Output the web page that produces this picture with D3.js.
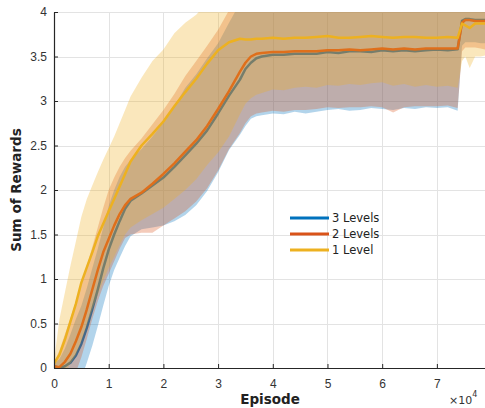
<!DOCTYPE html>
<html>
<head>
<meta charset="utf-8">
<script src="https://cdn.jsdelivr.net/npm/d3@7"></script>
<style>
  body { margin: 0; background: #fff; }
  svg { font-family: "DejaVu Sans", sans-serif; display: block; }
  .axis text { font-size: 12px; fill: #333; }
  .axis path, .axis line { stroke: #262626; }
</style>
</head>
<body>
<div id="Chart"></div>
<script>
// episodes, in units of 10^4
const episodes = [0, 0.1, 0.2, 0.3, 0.4, 0.5, 0.6, 0.7, 0.8, 0.9, 1.0, 1.1, 1.2, 1.3, 1.4, 1.6, 1.8, 2.0, 2.2, 2.4,
  2.6, 2.8, 3.0, 3.2, 3.4, 3.5, 3.6, 3.7, 3.8, 4.0, 4.2, 4.4, 4.6, 4.8, 5.0, 5.2, 5.4, 5.6, 5.8, 6.0,
  6.2, 6.4, 6.6, 6.8, 7.0, 7.2, 7.38, 7.46, 7.52, 7.6, 7.7, 7.8, 7.88];

const level3Mean  = [0.02, 0.0, 0.02, 0.06, 0.14, 0.27, 0.45, 0.66, 0.88, 1.12, 1.33, 1.5, 1.65, 1.79, 1.88, 1.96, 2.05, 2.14, 2.26, 2.39,
  2.52, 2.67, 2.86, 3.06, 3.24, 3.36, 3.43, 3.48, 3.5, 3.52, 3.52, 3.53, 3.53, 3.53, 3.55, 3.54, 3.56, 3.56, 3.55, 3.57,
  3.56, 3.57, 3.56, 3.57, 3.58, 3.57, 3.58, 3.9, 3.92, 3.92, 3.91, 3.91, 3.91];
const level3Lower = [0, -0.1, -0.3, -0.4, -0.35, -0.12, 0.06, 0.25, 0.47, 0.7, 0.92, 1.1, 1.24, 1.37, 1.48, 1.56, 1.58, 1.6, 1.65, 1.72,
  1.83, 1.99, 2.2, 2.45, 2.62, 2.72, 2.8, 2.83, 2.84, 2.86, 2.85, 2.88, 2.86, 2.88, 2.9, 2.91, 2.89, 2.9, 2.92, 2.91,
  2.9, 2.92, 2.91, 2.93, 2.92, 2.93, 2.89, 3.62, 3.66, 3.66, 3.66, 3.65, 3.65];
const level3Upper = [0.05, 0.1, 0.22, 0.38, 0.55, 0.7, 0.9, 1.12, 1.34, 1.58, 1.82, 2.0, 2.15, 2.26, 2.34, 2.46, 2.6, 2.76, 2.94, 3.15,
  3.3, 3.48, 3.65, 3.88, 4.1, 4.15, 4.2, 4.2, 4.2, 4.2, 4.2, 4.2, 4.2, 4.2, 4.2, 4.2, 4.2, 4.2, 4.2, 4.2,
  4.2, 4.2, 4.2, 4.2, 4.2, 4.2, 4.2, 4.3, 4.3, 4.3, 4.3, 4.3, 4.3];

const level2Mean  = [0.02, 0.01, 0.07, 0.16, 0.3, 0.46, 0.66, 0.88, 1.1, 1.3, 1.45, 1.6, 1.73, 1.83, 1.9, 1.97, 2.07, 2.18, 2.3, 2.43,
  2.56, 2.72, 2.91, 3.11, 3.33, 3.43, 3.5, 3.53, 3.54, 3.55, 3.55, 3.56, 3.56, 3.56, 3.57, 3.57, 3.58, 3.57, 3.58, 3.59,
  3.58, 3.59, 3.58, 3.59, 3.59, 3.59, 3.59, 3.88, 3.91, 3.91, 3.9, 3.9, 3.9];
const level2Lower = [0, -0.15, -0.3, -0.2, -0.05, 0.12, 0.33, 0.55, 0.75, 0.92, 1.06, 1.2, 1.34, 1.46, 1.5, 1.52, 1.52, 1.6, 1.68, 1.76,
  1.87, 2.02, 2.22, 2.46, 2.64, 2.75, 2.83, 2.86, 2.87, 2.89, 2.88, 2.9, 2.9, 2.91, 2.93, 2.92, 2.93, 2.93, 2.94, 2.93,
  2.87, 2.93, 2.94, 2.94, 2.94, 2.95, 2.92, 3.56, 3.6, 3.6, 3.6, 3.59, 3.58];
const level2Upper = [0.06, 0.2, 0.38, 0.56, 0.75, 0.95, 1.15, 1.36, 1.58, 1.8, 2.0, 2.14, 2.26, 2.36, 2.44, 2.58, 2.74, 2.9, 3.08, 3.28,
  3.45, 3.62, 3.8, 4.02, 4.2, 4.25, 4.25, 4.25, 4.25, 4.25, 4.25, 4.25, 4.25, 4.25, 4.25, 4.25, 4.25, 4.25, 4.25, 4.25,
  4.25, 4.25, 4.25, 4.25, 4.25, 4.25, 4.25, 4.3, 4.3, 4.3, 4.3, 4.3, 4.3];

const level1Mean  = [0.05, 0.15, 0.32, 0.52, 0.72, 0.96, 1.13, 1.3, 1.48, 1.62, 1.76, 1.9, 2.04, 2.18, 2.32, 2.5, 2.63, 2.77, 2.94, 3.1,
  3.25, 3.42, 3.57, 3.66, 3.7, 3.69, 3.69, 3.7, 3.7, 3.71, 3.7, 3.71, 3.71, 3.72, 3.73, 3.71, 3.71, 3.72, 3.73, 3.72,
  3.71, 3.72, 3.72, 3.71, 3.71, 3.72, 3.71, 3.87, 3.85, 3.82, 3.87, 3.87, 3.87];
const level1Lower = [0, -0.1, -0.05, 0.05, 0.15, 0.3, 0.48, 0.66, 0.82, 0.98, 1.12, 1.25, 1.38, 1.5, 1.58, 1.66, 1.73, 1.8, 1.9, 2.0,
  2.12, 2.28, 2.42, 2.6, 2.85, 2.97, 3.03, 3.07, 3.09, 3.13, 3.12, 3.15, 3.16, 3.15, 3.18, 3.17, 3.19, 3.18, 3.2, 3.21,
  3.17, 3.19, 3.16, 3.18, 3.16, 3.17, 3.15, 3.45, 3.5, 3.37, 3.5, 3.5, 3.51];
const level1Upper = [0.08, 0.55, 0.85, 1.15, 1.42, 1.7, 1.9, 2.05, 2.2, 2.34, 2.47, 2.6, 2.75, 2.9, 3.05, 3.26, 3.45, 3.58, 3.76, 3.88,
  3.97, 4.1, 4.2, 4.3, 4.35, 4.35, 4.35, 4.35, 4.35, 4.35, 4.35, 4.35, 4.35, 4.35, 4.35, 4.35, 4.35, 4.35, 4.35, 4.35,
  4.35, 4.35, 4.35, 4.35, 4.35, 4.35, 4.35, 4.35, 4.35, 4.35, 4.35, 4.35, 4.35];

const seriesNames = ["3 Levels", "2 Levels", "1 Level"];
const xTicks = [0, 1, 2, 3, 4, 5, 6, 7];
const yTicks = [0, 0.5, 1, 1.5, 2, 2.5, 3, 3.5, 4];

const dim = {width: 485, height: 408, left: 54, right: 485, top: 12, bottom: 368};
const colors = ["#0072BD", "#D95319", "#EDB120"];

const series = [
  {name: seriesNames[0], mean: level3Mean, lo: level3Lower, hi: level3Upper, color: colors[0]},
  {name: seriesNames[1], mean: level2Mean, lo: level2Lower, hi: level2Upper, color: colors[1]},
  {name: seriesNames[2], mean: level1Mean, lo: level1Lower, hi: level1Upper, color: colors[2]}
];

const scale = {
  x: d3.scaleLinear([0, 7.88], [dim.left, dim.right]),
  y: d3.scaleLinear([0, 4], [dim.bottom, dim.top])
};

const svg = d3.select("#Chart").append("svg")
  .attr("width", dim.width)
  .attr("height", dim.height);

svg.append("clipPath").attr("id", "plotClip")
  .append("rect")
    .attr("x", dim.left).attr("y", dim.top)
    .attr("width", dim.right - dim.left).attr("height", dim.bottom - dim.top);

// grid
const grid = svg.append("g").attr("class", "grid")
  .attr("stroke", "#e3e3e3").attr("stroke-width", 1);
grid.selectAll("line.v").data(xTicks.slice(1)).join("line")
  .attr("class", "v")
  .attr("x1", d => Math.round(scale.x(d)) + 0.5).attr("x2", d => Math.round(scale.x(d)) + 0.5)
  .attr("y1", dim.top).attr("y2", dim.bottom);
grid.selectAll("line.h").data(yTicks.slice(1)).join("line")
  .attr("class", "h")
  .attr("y1", d => Math.round(scale.y(d)) + 0.5).attr("y2", d => Math.round(scale.y(d)) + 0.5)
  .attr("x1", dim.left).attr("x2", dim.right);

const chart = svg.append("g").attr("class", "chart").attr("clip-path", "url(#plotClip)");

const area = d3.area()
  .x(d => scale.x(d.x))
  .y0(d => scale.y(d.lo))
  .y1(d => scale.y(d.hi));
const line = d3.line()
  .x(d => scale.x(d.x))
  .y(d => scale.y(d.m));

for (const s of series) {
  const rows = episodes.map((x, i) => ({x: x, m: s.mean[i], lo: s.lo[i], hi: s.hi[i]}));
  chart.append("path")
    .attr("fill", s.color)
    .attr("fill-opacity", 0.3)
    .attr("d", area(rows));
  chart.append("path")
    .attr("fill", "none")
    .attr("stroke", s.color)
    .attr("stroke-width", 2.5)
    .attr("stroke-linejoin", "round")
    .attr("d", line(rows));
}

// axes
svg.append("g").attr("class", "axis left")
  .attr("transform", `translate(${dim.left} 0)`)
  .call(d3.axisLeft(scale.y).tickValues(yTicks).tickSize(-4).tickSizeOuter(0).tickPadding(7)
    .tickFormat(d3.format("")));
svg.append("g").attr("class", "axis bottom")
  .attr("transform", `translate(0 ${dim.bottom})`)
  .call(d3.axisBottom(scale.x).tickValues(xTicks).tickSize(-4).tickSizeOuter(0).tickPadding(11)
    .tickFormat(d3.format("d")));
svg.selectAll(".axis .domain").attr("stroke-width", 1.2);

svg.append("text")
  .attr("transform", "translate(21 190) rotate(-90)")
  .attr("text-anchor", "middle")
  .attr("font-weight", "bold").attr("font-size", 13.5).attr("fill", "#222")
  .text("Sum of Rewards");

svg.append("text")
  .attr("x", 270).attr("y", 404)
  .attr("text-anchor", "middle")
  .attr("font-weight", "bold").attr("font-size", 13.5).attr("fill", "#222")
  .text("Episode");

// exponent label, kept inside the right and bottom edges
const expo = svg.append("text").attr("x", 449).attr("y", 404).attr("font-size", 11).attr("fill", "#333");
expo.append("tspan").text("×10");
expo.append("tspan").attr("dy", -7).attr("font-size", 8).text("4");

// legend
const legend = svg.append("g").attr("class", "legend")
  .selectAll("g").data(series).join("g")
    .attr("transform", (d, i) => `translate(290 ${218 + i * 16})`);
legend.append("line")
  .attr("x1", 0).attr("x2", 39)
  .attr("stroke", d => d.color).attr("stroke-width", 3);
legend.append("text")
  .attr("x", 42).attr("dy", "0.35em")
  .attr("font-size", 11.5).attr("fill", "#222")
  .text(d => d.name);
</script>
</body>
</html>
